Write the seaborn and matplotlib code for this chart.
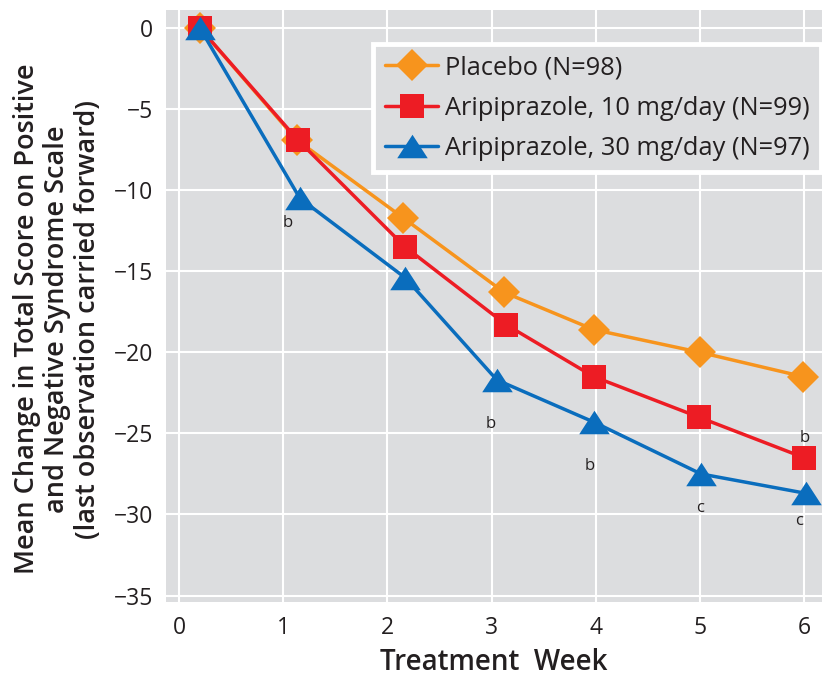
import matplotlib
matplotlib.use("Agg")
import matplotlib.pyplot as plt
from matplotlib.path import Path
import seaborn as sns
import pandas as pd

# ---- data ----
series_names = ["Placebo (N=98)", "Aripiprazole, 10 mg/day (N=99)", "Aripiprazole, 30 mg/day (N=97)"]
placebo_week = [0.2, 1.13, 2.15, 3.12, 3.98, 5.0, 5.99]
placebo_change = [0, -6.9, -11.7, -16.3, -18.6, -20.0, -21.5]
ari10_week = [0.2, 1.14, 2.17, 3.14, 3.98, 4.99, 6.0]
ari10_change = [0, -6.9, -13.5, -18.3, -21.5, -24.0, -26.5]
ari30_week = [0.2, 1.16, 2.17, 3.05, 3.98, 5.01, 6.02]
ari30_change = [0, -10.5, -15.4, -21.7, -24.3, -27.5, -28.7]

annot_labels = ["b", "b", "b", "c", "c", "b"]
annot_x = [1.04, 2.99, 3.94, 5.0, 5.95, 6.0]
annot_y = [-12.0, -24.4, -27.0, -29.6, -30.4, -25.3]

x_ticks = [0, 1, 2, 3, 4, 5, 6]
y_ticks = [0, -5, -10, -15, -20, -25, -30, -35]

# ---- style ----
sns.set_theme(style="darkgrid", rc={
    "axes.facecolor": "#DCDDDF",
    "grid.color": "white",
    "grid.linewidth": 1.5,
})
plt.rcParams["font.family"] = ["Open Sans", "DejaVu Sans"]
plt.rcParams["axes.unicode_minus"] = True

txt_color = "#231F20"
colors = ["#F7941D", "#ED1C24", "#0A6DBD"]
wide_triangle = Path([(0, 0.77), (-1, -0.77), (1, -0.77), (0, 0.77)],
                     [Path.MOVETO, Path.LINETO, Path.LINETO, Path.CLOSEPOLY])
markers = ["D", "s", wide_triangle]
msizes = [16, 17, 22]

fig = plt.figure(figsize=(8.23, 6.78), dpi=100)
ax = fig.add_axes([0.2017, 0.112, 0.797, 0.873])

weeks = [placebo_week, ari10_week, ari30_week]
changes = [placebo_change, ari10_change, ari30_change]
for i, name in enumerate(series_names):
    df = pd.DataFrame({"week": weeks[i], "change": changes[i]})
    sns.lineplot(data=df, x="week", y="change", ax=ax, color=colors[i],
                 marker=markers[i], markersize=msizes[i], markeredgewidth=0,
                 linewidth=2.5, label=name, zorder=3 + i, sort=False)

for lab, xx, yy in zip(annot_labels, annot_x, annot_y):
    ax.text(xx, yy, lab, ha="center", va="center", fontsize=12, color=txt_color, zorder=10)

ax.set_xlim(-0.125, 6.17)
ax.set_ylim(-35.4, 1.1)
ax.set_xticks(x_ticks)
ax.set_yticks(y_ticks)
ax.tick_params(axis="both", labelsize=16.5, colors=txt_color, length=0)
ax.tick_params(axis="x", pad=10)
ax.tick_params(axis="y", pad=9)
for s in ax.spines.values():
    s.set_visible(False)

ax.set_xlabel("Treatment  Week", fontsize=20, color=txt_color, labelpad=6, fontweight="semibold")
ax.set_ylabel("Mean Change in Total Score on Positive\nand Negative Syndrome Scale\n(last observation carried forward)",
              fontsize=19.5, color=txt_color, fontweight="semibold", linespacing=1.12)
ax.yaxis.set_label_coords(-0.098, 0.478)

leg = ax.legend(loc="upper right", bbox_to_anchor=(0.998, 0.943), borderaxespad=0,
                fontsize=18.3, frameon=True, fancybox=False, framealpha=1,
                handlelength=2.1, handletextpad=0.25, labelspacing=0.6, borderpad=0.45)
leg.get_frame().set_facecolor("#DCDDDF")
leg.get_frame().set_edgecolor("white")
leg.get_frame().set_linewidth(3.5)
for t in leg.get_texts():
    t.set_color(txt_color)

fig.savefig("out.png", dpi=100)
